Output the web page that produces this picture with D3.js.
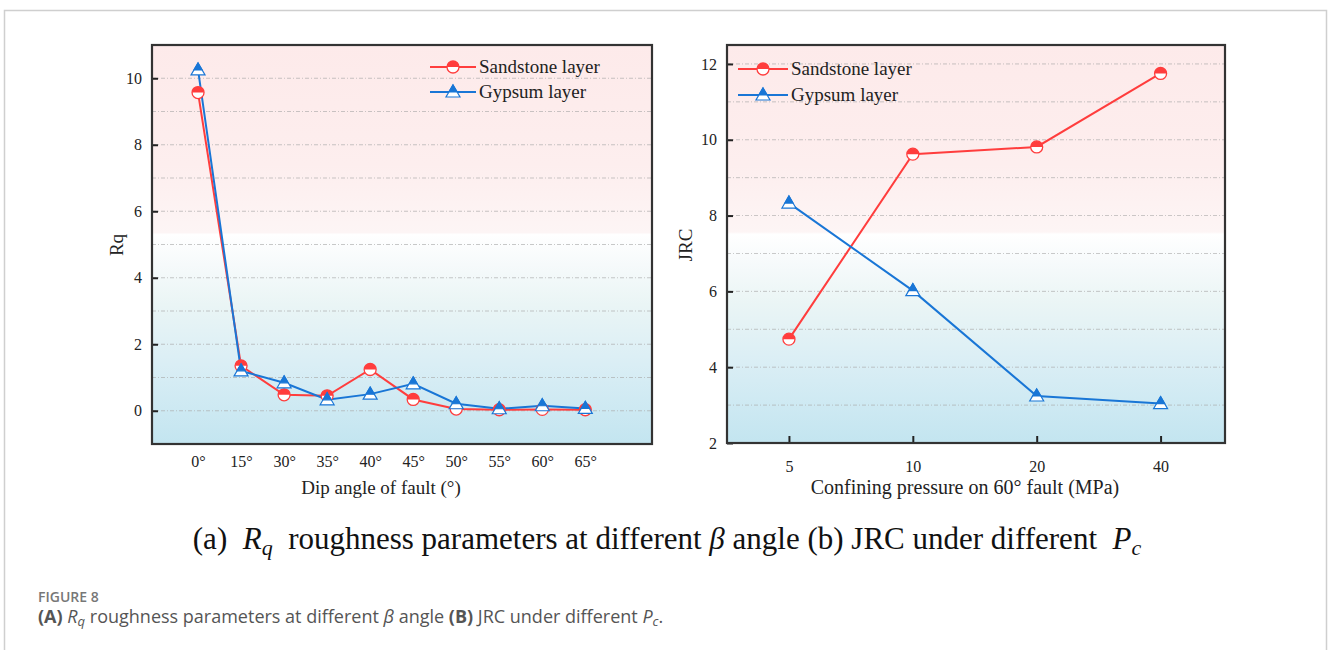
<!DOCTYPE html>
<html><head><meta charset="utf-8">
<script src="https://cdn.jsdelivr.net/npm/d3@7"></script>
<style>body{margin:0;background:#fff}svg{display:block}</style>
</head><body>
<script>
// ---------- data ----------
const anglesLabels = ["0°","15°","30°","35°","40°","45°","50°","55°","60°","65°"];
const rqSandstone = [9.57, 1.35, 0.48, 0.45, 1.24, 0.34, 0.05, 0.03, 0.04, 0.03];
const rqGypsum    = [10.25, 1.2, 0.84, 0.33, 0.5, 0.81, 0.21, 0.06, 0.15, 0.07];
const pressureLabels = ["5","10","20","40"];
const jrcSandstone = [4.74, 9.62, 9.81, 11.75];
const jrcGypsum    = [8.33, 6.02, 3.24, 3.04];
const rqTicks = [0,2,4,6,8,10];
const jrcTicks = [2,4,6,8,10,12];
const seriesNames = ["Sandstone layer","Gypsum layer"];

const W=1328,H=650;
const RED="#ff3d3d", BLUE="#1976d6";
const svg=d3.select("body").append("svg").attr("width",W).attr("height",H)
  .style("font-family","'Liberation Serif', 'Times New Roman', serif");

// outer frame
svg.append("rect").attr("x",4.5).attr("y",10.5).attr("width",1322).attr("height",700)
  .attr("fill","none").attr("stroke","#cfcfcf").attr("stroke-width",1.5);

const defs=svg.append("defs");
const grad=defs.append("linearGradient").attr("id","bg").attr("x1",0).attr("y1",0).attr("x2",0).attr("y2",1);
[[0,"#fdeaea"],[0.3,"#fdeeee"],[0.47,"#fdf5f5"],[0.475,"#ffffff"],[0.55,"#f6fafb"],[0.65,"#eaf5f5"],[0.8,"#daeef5"],[1,"#c3e5f0"]]
 .forEach(([o,c])=>grad.append("stop").attr("offset",o).attr("stop-color",c));

function marker(g, type, color){
  if(type==="circle"){
    const r=6;
    g.append("circle").attr("r",r).attr("fill","#fff").attr("stroke",color).attr("stroke-width",1.3);
    g.append("path").attr("d",`M${-r},0 A${r},${r} 0 0 1 ${r},0 Z`).attr("fill",color);
  } else {
    const t=-7,b=5,hw=7;
    g.append("path").attr("d",`M0,${t} L${hw},${b} L${-hw},${b} Z`).attr("fill","#fff").attr("stroke",color).attr("stroke-width",1.2);
    const w0=hw*(0-t)/(b-t);
    g.append("path").attr("d",`M0,${t} L${w0},0 L${-w0},0 Z`).attr("fill",color).attr("stroke",color).attr("stroke-width",1.2);
  }
}

function panel(opt){
  const {x0,x1,y0,y1,xs,ys,yTicks,xLabels,series,xTitle,xTitleX,xTitleSize,yTitle,yTitleX,legend,bottomTicks}=opt;
  const g=svg.append("g");
  g.append("rect").attr("x",x0).attr("y",y0).attr("width",x1-x0).attr("height",y1-y0).attr("fill","url(#bg)");
  const gridVals=d3.range(Math.ceil(ys.domain()[0]),Math.floor(ys.domain()[1])+1);
  g.selectAll(".grid").data(gridVals).join("line")
    .attr("x1",x0).attr("x2",x1).attr("y1",d=>ys(d)).attr("y2",d=>ys(d))
    .attr("stroke","#a9a9a9").attr("stroke-width",0.8).attr("stroke-dasharray","4,2,1,2").attr("opacity",0.8);
  const ya=g.append("g").attr("transform",`translate(${x0},0)`)
    .call(d3.axisLeft(ys).tickValues(yTicks).tickSize(-6).tickPadding(10).tickFormat(d3.format("d")));
  ya.select(".domain").remove();
  ya.selectAll("line").attr("stroke","#222").attr("stroke-width",2);
  ya.selectAll("text").attr("font-size",16).attr("fill","#222").attr("font-family","'Liberation Serif', serif");
  const xa=g.append("g").attr("transform",`translate(0,${y1})`)
    .call(d3.axisBottom(xs).tickValues(d3.range(xLabels.length)).tickSize(bottomTicks?-7:0).tickPadding(bottomTicks?18:12).tickFormat(i=>xLabels[i]));
  xa.select(".domain").remove();
  xa.selectAll("line").attr("stroke","#222").attr("stroke-width",2);
  xa.selectAll("text").attr("font-size",16).attr("fill","#222").attr("font-family","'Liberation Serif', serif");
  g.append("rect").attr("x",x0).attr("y",y0).attr("width",x1-x0).attr("height",y1-y0)
    .attr("fill","none").attr("stroke","#333").attr("stroke-width",2.2);
  const line=d3.line().x((d,i)=>xs(i)).y(d=>ys(d));
  series.forEach(s=>{
    g.append("path").datum(s.values).attr("d",line).attr("fill","none").attr("stroke",s.color).attr("stroke-width",2);
  });
  series.forEach(s=>{
    s.values.forEach((v,i)=>{
      marker(g.append("g").attr("transform",`translate(${xs(i)},${ys(v)})`),s.type,s.color);
    });
  });
  g.append("text").attr("x",xTitleX).attr("y",494).attr("text-anchor","middle").attr("font-size",xTitleSize).attr("fill","#222").text(xTitle);
  g.append("text").attr("transform",`translate(${yTitleX},245) rotate(-90)`).attr("text-anchor","middle").attr("font-size",19).attr("fill","#222").text(yTitle);
  series.forEach((s,k)=>{
    const ly=legend.y+k*legend.dy;
    g.append("line").attr("x1",legend.x).attr("x2",legend.x+legend.len).attr("y1",ly).attr("y2",ly).attr("stroke",s.color).attr("stroke-width",2);
    marker(g.append("g").attr("transform",`translate(${legend.x+legend.len/2},${ly})`),s.type,s.color);
    g.append("text").attr("x",legend.x+legend.len+3).attr("y",ly+6).attr("font-size",19).attr("fill","#222").text(seriesNames[k]);
  });
}

panel({
  x0:152,x1:652,y0:45,y1:444,
  xs:d3.scaleLinear().domain([-1.07,10.55]).range([152,652]),
  ys:d3.scaleLinear().domain([-1,11]).range([444,45]),
  yTicks:rqTicks, xLabels:anglesLabels,
  series:[{values:rqSandstone,color:RED,type:"circle"},{values:rqGypsum,color:BLUE,type:"tri"}],
  xTitle:"Dip angle of fault (°)", xTitleX:381, xTitleSize:19, yTitle:"Rq", yTitleX:123,
  legend:{x:430,y:67,dy:25,len:46}, bottomTicks:false
});
panel({
  x0:727,x1:1225,y0:45,y1:443,
  xs:d3.scaleLinear().domain([-0.5,3.52]).range([727,1225]),
  ys:d3.scaleLinear().domain([2,12.5]).range([443,45]),
  yTicks:jrcTicks, xLabels:pressureLabels,
  series:[{values:jrcSandstone,color:RED,type:"circle"},{values:jrcGypsum,color:BLUE,type:"tri"}],
  xTitle:"Confining pressure on 60° fault (MPa)", xTitleX:965, xTitleSize:20, yTitle:"JRC", yTitleX:692,
  legend:{x:738,y:69,dy:26,len:50}, bottomTicks:true
});

function addParts(t, parts){
  parts.forEach(p=>{
    const ts=t.append("tspan").text(p.t);
    if(p.i) ts.attr("font-style","italic");
    if(p.b) ts.attr("font-weight","bold");
    if(p.sub) ts.attr("baseline-shift","-25%").attr("font-size",p.sub);
  });
}
// main caption
const cap=svg.append("text").attr("x",667).attr("y",549).attr("text-anchor","middle").attr("font-size",31).attr("fill","#111").attr("xml:space","preserve");
addParts(cap,[
  {t:"(a)  "},{t:"R",i:1},{t:"q",i:1,sub:22},{t:"  roughness parameters at different "},{t:"β",i:1},
  {t:" angle (b) JRC under different  "},{t:"P",i:1},{t:"c",i:1,sub:22}
]);

// figure label
svg.append("text").attr("x",38).attr("y",602).attr("font-family","'Open Sans', sans-serif").attr("font-size",14)
  .attr("font-weight",600).attr("fill","#777").text("FIGURE 8");
const fc=svg.append("text").attr("x",38).attr("y",623).attr("font-family","'Open Sans', sans-serif").attr("font-size",18)
  .attr("fill","#555").attr("xml:space","preserve");
addParts(fc,[
  {t:"(A)",b:1},{t:" "},{t:"R",i:1},{t:"q",i:1,sub:13},{t:" roughness parameters at different "},{t:"β",i:1},
  {t:" angle "},{t:"(B)",b:1},{t:" JRC under different "},{t:"P",i:1},{t:"c",i:1,sub:13},{t:"."}
]);
</script>
</body></html>
